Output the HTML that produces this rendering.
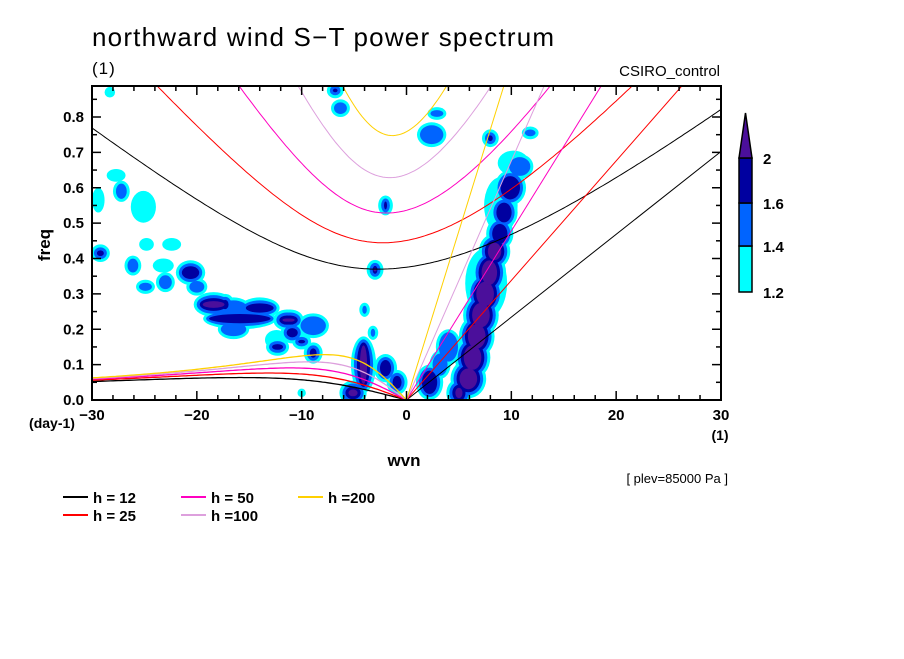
<!DOCTYPE html>
<html><head><meta charset="utf-8"><style>
body{margin:0;background:#fff;}
svg text{font-family:"Liberation Sans",sans-serif;}
</style></head><body>
<svg id="chart" width="904" height="654" xmlns="http://www.w3.org/2000/svg">
<defs><clipPath id="clip"><rect x="92" y="86" width="629" height="314"/></clipPath></defs>
<text x="92" y="46" font-size="26" letter-spacing="1.2">northward wind S−T power spectrum</text>
<text x="92" y="74" font-size="17" letter-spacing="1">(1)</text>
<text x="720" y="76" font-size="15" text-anchor="end">CSIRO_control</text>
<g id="blobs" clip-path="url(#clip)"></g>
<g id="curves" clip-path="url(#clip)"></g>
<g id="axes"></g>
<text x="52" y="428" font-size="14" font-weight="bold" text-anchor="middle">(day-1)</text>
<text x="720" y="440" font-size="14" font-weight="bold" text-anchor="middle">(1)</text>
<text x="404" y="466" font-size="17" font-weight="bold" text-anchor="middle">wvn</text>
<text x="50" y="245" font-size="17" font-weight="bold" text-anchor="middle" transform="rotate(-90 50 245)">freq</text>
<text x="728" y="483" font-size="13" text-anchor="end">[ plev=85000 Pa ]</text>
<g id="legend"></g>
<g id="cbar"></g>
</svg>
<script>
const NS="http://www.w3.org/2000/svg";
const depths=[12,25,50,100,200];
const depthColors=["#000000","#ff0000","#ff00c0","#dda0dd","#ffd000"];
const levelColors=["#00ffff","#0064ff","#0000a0","#4b0f9b"];
const levelLabels=["1.2","1.4","1.6","2"];
const xTicks=[-30,-20,-10,0,10,20,30];
const yTicks=[0.0,0.1,0.2,0.3,0.4,0.5,0.6,0.7,0.8];
// blobs: [wavenumber, freq, k-radius, f-radius, max level]
const blobK=[5.9,6.3,6.7,7.1,7.5,7.9,8.4,8.9,9.3,9.9,10.2,5.0,2.2,4.0,3.2,-4.1,-5.1,-2,-0.9,-3,-2,-6.8,-6.3,2.4,2.9,8,11.8,10.8,-29.2,-29.4,-25.1,-27.2,-27.7,-28.3,-26.1,-23.2,-23,-24.9,-20.6,-20,-22.4,-24.8,-18.4,-16.5,-14,-15.9,-11.4,-10.9,-12.4,-16.5,-11.1,-10,-12.3,-8.9,-8.9,-4,-3.2,-10,-17.3,7.6,9.0];
const blobF=[0.06,0.12,0.18,0.24,0.30,0.36,0.42,0.47,0.53,0.60,0.67,0.02,0.05,0.15,0.10,0.10,0.02,0.09,0.05,0.368,0.55,0.875,0.825,0.75,0.81,0.74,0.755,0.66,0.415,0.565,0.546,0.59,0.635,0.87,0.38,0.38,0.333,0.32,0.36,0.32,0.44,0.44,0.27,0.26,0.26,0.23,0.226,0.19,0.17,0.2,0.226,0.165,0.15,0.21,0.133,0.255,0.19,0.02,0.27,0.33,0.55];
const blobRK=[1.7,1.7,1.7,1.7,1.7,1.6,1.5,1.3,1.3,1.5,1.5,1.2,1.3,1.2,1.0,1.2,1.3,1.1,1.0,0.8,0.7,0.8,0.9,1.4,0.9,0.8,0.8,1.3,0.9,0.6,1.2,0.8,0.9,0.5,0.8,1.0,0.9,0.9,1.4,1.0,0.9,0.7,1.9,1.6,1.9,3.5,1.3,1.1,1.1,1.5,1.3,0.9,1.1,1.5,0.9,0.5,0.5,0.4,0.9,2.0,1.6];
const blobRF=[0.055,0.06,0.06,0.06,0.06,0.06,0.05,0.045,0.045,0.05,0.035,0.04,0.05,0.05,0.04,0.08,0.035,0.04,0.035,0.028,0.028,0.022,0.025,0.035,0.018,0.025,0.018,0.035,0.025,0.035,0.045,0.03,0.018,0.015,0.028,0.02,0.028,0.02,0.035,0.025,0.018,0.018,0.035,0.03,0.03,0.03,0.03,0.03,0.028,0.028,0.03,0.022,0.025,0.035,0.03,0.02,0.02,0.012,0.03,0.1,0.08];
const blobL=[4,4,4,4,4,4,4,3,3,3,1,4,3,2,2,4,4,3,3,4,3,3,2,2,2,3,2,2,3,1,1,2,1,1,2,1,2,2,3,2,1,1,4,2,3,3,4,3,1,2,4,3,3,2,3,2,2,1,3,1,1];

const X0=92,X1=721,Y0=400,FPX=353.75;
const xs=k=>X0+(k+30)/60*(X1-X0);
const ys=f=>Y0-f*FPX;
function el(tag,attrs,parent){const e=document.createElementNS(NS,tag);for(const a in attrs)e.setAttribute(a,attrs[a]);parent.appendChild(e);return e;}

// blobs
const bg=document.getElementById('blobs');
for(let lv=1;lv<=4;lv++){
  for(let i=0;i<blobK.length;i++){
    if(blobL[i]<lv)continue;
    const d=(lv-1)*3;
    const rx=Math.max(1.5,blobRK[i]*(X1-X0)/60-d),ry=Math.max(1.5,blobRF[i]*FPX-d);
    const e=el('ellipse',{cx:xs(blobK[i]),cy:ys(blobF[i]),rx:rx,ry:ry,fill:levelColors[lv-1]},bg);
    
    
  }
}

// dispersion curves
const g=9.81,a=6.371e6,beta=2*7.292e-5/a,cpd=86400/(2*Math.PI);
function roots(k,c){
  const kk=k/a,A=c*c*kk*kk+3*beta*c,q=-beta*kk*c*c,p=-A;
  const m=2*Math.sqrt(-p/3);
  let arg=3*q/(2*p)*Math.sqrt(-3/p);arg=Math.max(-1,Math.min(1,arg));
  const th=Math.acos(arg)/3;
  return [0,1,2].map(j=>m*Math.cos(th-2*Math.PI*j/3)).sort((u,v)=>v-u);
}
const cg=document.getElementById('curves');
depths.forEach((h,i)=>{
  const c=Math.sqrt(g*h),col=depthColors[i];
  let ig=[],ro=[];
  for(let k=-30;k<=30.001;k+=0.25){
    const r=roots(k,c);
    ig.push(xs(k).toFixed(1)+','+ys(r[0]*cpd).toFixed(1));
    if(k<=0)ro.push(xs(k).toFixed(1)+','+ys((k===0?0:r[1])*cpd).toFixed(1));
  }
  const p1=el('polyline',{points:ig.join(' '),fill:'none',stroke:col,'stroke-width':1},cg);
  
  
  const p2=el('polyline',{points:ro.join(' '),fill:'none',stroke:col,'stroke-width':1.3},cg);
  
  
  const kf=30*c/a*cpd;
  const p3=el('line',{x1:xs(0),y1:ys(0),x2:xs(30),y2:ys(kf),stroke:col,'stroke-width':1},cg);
  
  
});

// axes
const ax=document.getElementById('axes');
const fr=el('rect',{x:X0,y:86,width:X1-X0,height:Y0-86,fill:'none',stroke:'#000','stroke-width':2},ax);


for(let k=-30;k<=30;k+=2){
  const L=(k%10===0)?9:5,x=xs(k);
  el('line',{x1:x,y1:Y0,x2:x,y2:Y0-L,stroke:'#000','stroke-width':1.5},ax);
  el('line',{x1:x,y1:86,x2:x,y2:86+L,stroke:'#000','stroke-width':1.5},ax);
}
for(let j=0;j<=17;j++){
  const f=j*0.05,L=(j%2===0)?9:5,y=ys(f);
  el('line',{x1:X0,y1:y,x2:X0+L,y2:y,stroke:'#000','stroke-width':1.5},ax);
  el('line',{x1:X1,y1:y,x2:X1-L,y2:y,stroke:'#000','stroke-width':1.5},ax);
}
xTicks.forEach(k=>{
  const t=el('text',{x:xs(k),y:420,'font-size':15,'font-weight':'bold','text-anchor':'middle'},ax);
  t.textContent=(k<0?'−':'')+Math.abs(k);
  
  
});
yTicks.forEach(f=>{
  const t=el('text',{x:84,y:ys(f)+5,'font-size':15,'font-weight':'bold','text-anchor':'end'},ax);
  t.textContent=f.toFixed(1);
  
  
});

// legend
const lg=document.getElementById('legend');
const lx=[63,181,298,63,181],ly=[497,497,497,515,515],order=[0,2,4,1,3];
const labels={12:'h = 12',25:'h = 25',50:'h = 50',100:'h =100',200:'h =200'};
order.forEach((di,j)=>{
  const x=lx[j],y=ly[j];
  const item=el('g',{},lg);
  
  
  el('line',{x1:x,y1:y,x2:x+25,y2:y,stroke:depthColors[di],'stroke-width':2},item);
  const t=el('text',{x:x+30,y:y+6,'font-size':15,'font-weight':'bold'},item);
  t.textContent=labels[depths[di]];
});

// colorbar
const cb=document.getElementById('cbar');
const bands=[[246,292],[203,246],[158,203]];
bands.forEach((b,i)=>{
  const r=el('rect',{x:739,y:b[0],width:13,height:b[1]-b[0],fill:levelColors[i],stroke:'#000','stroke-width':1.5},cb);
  
  
});
const tri=el('polygon',{points:'739,158 752,158 745.5,113',fill:levelColors[3],stroke:'#000','stroke-width':1.5},cb);


const cby=[292,246,203,158];
levelLabels.forEach((s,i)=>{
  const t=el('text',{x:763,y:cby[i]+6,'font-size':15,'font-weight':'bold'},cb);
  t.textContent=s;
  
  
});
</script>
</body></html>
